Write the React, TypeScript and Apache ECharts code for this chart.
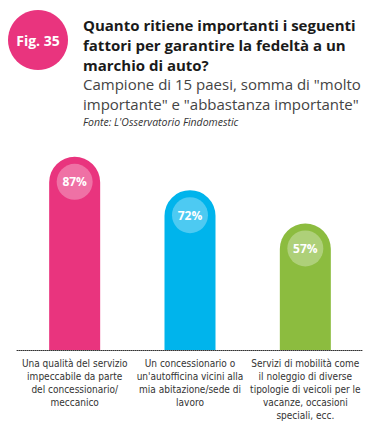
import React, { useEffect, useRef } from "react";
import * as echarts from "echarts";

const categories = [
  "Una qualità del servizio\nimpeccabile da parte\ndel concessionario/\nmeccanico",
  "Un concessionario o\nun'autofficina vicini alla\nmia abitazione/sede di\nlavoro",
  "Servizi di mobilità come\nil noleggio di diverse\ntipologie di veicoli per le\nvacanze, occasioni\nspeciali, ecc.",
];
const values = [87, 72, 57];
const barColors = ["#E9347E", "#00B4EC", "#8CBC3F"];
const titleLines = [
  "Quanto ritiene importanti i seguenti",
  "fattori per garantire la fedeltà a un",
  "marchio di auto?",
];
const subtitleLines = [
  "Campione di 15 paesi, somma di \"molto",
  "importante\" e \"abbastanza importante\"",
];
const sourceText = "Fonte: L'Osservatorio Findomestic";

export default function App() {
  const ref = useRef<HTMLDivElement>(null);
  useEffect(() => {
    const chart = echarts.init(ref.current!, null, { renderer: "svg" });
    const graphics: any[] = [
      { type: "circle", shape: { cx: 38, cy: 40, r: 30 }, style: { fill: "#E9347E" } },
      {
        type: "text", x: 38, y: 40,
        style: { text: "Fig. 35", fill: "#fff", font: "bold 14px 'Open Sans'", align: "center", verticalAlign: "middle" },
      },
    ];
    titleLines.forEach((t, i) => {
      graphics.push({
        type: "text", x: 83, y: 25 + i * 20,
        style: { text: t, fill: "#1a1a1a", font: "bold 15px 'Open Sans'", verticalAlign: "middle" },
      });
    });
    subtitleLines.forEach((t, i) => {
      graphics.push({
        type: "text", x: 83, y: 84 + i * 20,
        style: { text: t, fill: "#444", font: "15px 'Open Sans'", verticalAlign: "middle" },
      });
    });
    graphics.push({
      type: "text", x: 83, y: 122,
      style: { text: sourceText, fill: "#333", font: "italic 10.5px 'Open Sans'", verticalAlign: "middle" },
    });
    chart.setOption({
      animation: false,
      grid: { left: 17, right: 15, top: 128, bottom: 83 },
      graphic: graphics,
      xAxis: {
        type: "category",
        data: categories,
        axisLine: { lineStyle: { type: "dotted", color: "#333", width: 1 } },
        axisTick: { show: false },
        axisLabel: {
          interval: 0, color: "#333", fontSize: 10, lineHeight: 13, margin: 7,
          fontFamily: "'DejaVu Sans Condensed', sans-serif",
        },
      },
      yAxis: { type: "value", min: 0, max: 100, show: false, splitLine: { show: false } },
      series: [
        {
          type: "bar",
          barWidth: 51,
          data: values.map((v, i) => ({
            value: v,
            itemStyle: { color: barColors[i], borderRadius: [25.5, 25.5, 0, 0] },
          })),
          label: {
            show: true,
            position: "insideTop",
            distance: 7,
            formatter: "{c}%",
            color: "#fff",
            fontWeight: "bold",
            fontSize: 12,
            fontFamily: "'Open Sans'",
            width: 36,
            lineHeight: 36,
            align: "center",
            borderRadius: 18,
            backgroundColor: "rgba(255,255,255,0.3)",
          },
        },
      ],
    });
    return () => chart.dispose();
  }, []);
  return <div ref={ref} style={{ width: 378, height: 433, position: "absolute", left: 0, top: 0 }} />;
}
